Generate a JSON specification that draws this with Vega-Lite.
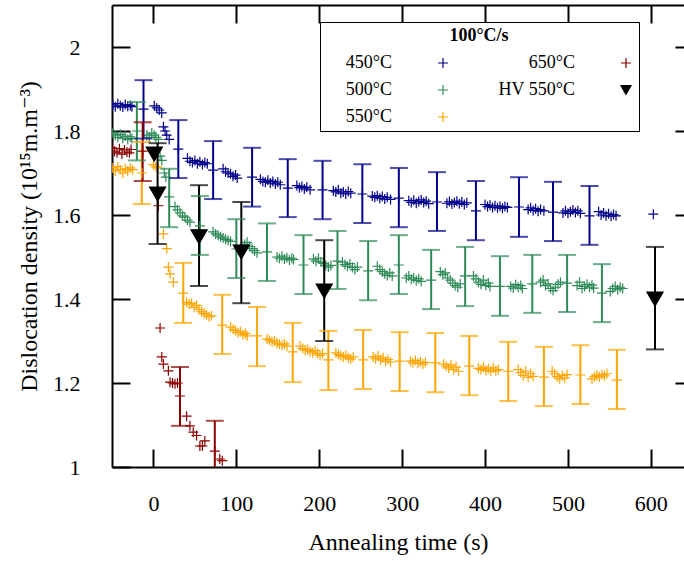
{
"$schema": "https://vega.github.io/schema/vega-lite/v6.json",
"width": 572, "height": 462,
"autosize": {"type": "none"},
"padding": {"left": 112, "top": 5, "right": 0, "bottom": 94},
"background": "white",
"config": {
  "view": {"stroke": null},
  "font": "Liberation Serif, DejaVu Serif, serif",
  "axis": {"domainColor": "black", "domainWidth": 2, "tickColor": "black", "tickWidth": 2, "labelColor": "black", "titleColor": "black", "labelFont": "Liberation Serif, DejaVu Serif, serif", "titleFont": "Liberation Serif, DejaVu Serif, serif", "labelFontSize": 22, "titleFontSize": 24, "titleFontWeight": "normal", "grid": false},
  "legend": {"labelFont": "Liberation Serif, DejaVu Serif, serif", "titleFont": "Liberation Serif, DejaVu Serif, serif"}
},
"datasets": {
"pts": [
{"series":"450°C","t":-49,"rho":1.862},{"series":"450°C","t":-46,"rho":1.858},{"series":"450°C","t":-43,"rho":1.865},{"series":"450°C","t":-40,"rho":1.860},{"series":"450°C","t":-37,"rho":1.857},{"series":"450°C","t":-34,"rho":1.863},{"series":"450°C","t":-31,"rho":1.859},{"series":"450°C","t":-28,"rho":1.861},{"series":"450°C","t":-26,"rho":1.858},
{"series":"450°C","t":1,"rho":1.860},{"series":"450°C","t":4,"rho":1.855},{"series":"450°C","t":7,"rho":1.850},{"series":"450°C","t":10,"rho":1.843},{"series":"450°C","t":12,"rho":1.81},{"series":"450°C","t":14,"rho":1.80},{"series":"450°C","t":16,"rho":1.79},{"series":"450°C","t":19,"rho":1.78},
{"series":"450°C","t":41,"rho":1.735},{"series":"450°C","t":44,"rho":1.728},{"series":"450°C","t":47,"rho":1.725},{"series":"450°C","t":50,"rho":1.73},{"series":"450°C","t":53,"rho":1.722},{"series":"450°C","t":56,"rho":1.727},{"series":"450°C","t":59,"rho":1.72},{"series":"450°C","t":62,"rho":1.725},{"series":"450°C","t":65,"rho":1.722},
{"series":"450°C","t":84,"rho":1.71},{"series":"450°C","t":87,"rho":1.703},{"series":"450°C","t":90,"rho":1.70},{"series":"450°C","t":93,"rho":1.698},{"series":"450°C","t":96,"rho":1.692},{"series":"450°C","t":99,"rho":1.695},{"series":"450°C","t":101,"rho":1.688},
{"series":"450°C","t":129,"rho":1.685},{"series":"450°C","t":132,"rho":1.68},{"series":"450°C","t":135,"rho":1.678},{"series":"450°C","t":138,"rho":1.683},{"series":"450°C","t":141,"rho":1.676},{"series":"450°C","t":144,"rho":1.68},{"series":"450°C","t":147,"rho":1.674},{"series":"450°C","t":150,"rho":1.678},{"series":"450°C","t":153,"rho":1.672},
{"series":"450°C","t":173,"rho":1.67},{"series":"450°C","t":176,"rho":1.665},{"series":"450°C","t":179,"rho":1.668},{"series":"450°C","t":182,"rho":1.662},{"series":"450°C","t":185,"rho":1.666},{"series":"450°C","t":189,"rho":1.66},
{"series":"450°C","t":217,"rho":1.658},{"series":"450°C","t":220,"rho":1.655},{"series":"450°C","t":223,"rho":1.66},{"series":"450°C","t":226,"rho":1.652},{"series":"450°C","t":229,"rho":1.655},{"series":"450°C","t":232,"rho":1.65},{"series":"450°C","t":235,"rho":1.656},{"series":"450°C","t":238,"rho":1.652},
{"series":"450°C","t":264,"rho":1.645},{"series":"450°C","t":267,"rho":1.642},{"series":"450°C","t":270,"rho":1.646},{"series":"450°C","t":273,"rho":1.64},{"series":"450°C","t":276,"rho":1.644},{"series":"450°C","t":279,"rho":1.638},{"series":"450°C","t":282,"rho":1.642},{"series":"450°C","t":286,"rho":1.637},
{"series":"450°C","t":308,"rho":1.634},{"series":"450°C","t":311,"rho":1.63},{"series":"450°C","t":314,"rho":1.635},{"series":"450°C","t":317,"rho":1.628},{"series":"450°C","t":320,"rho":1.632},{"series":"450°C","t":323,"rho":1.636},{"series":"450°C","t":326,"rho":1.63},{"series":"450°C","t":329,"rho":1.633},{"series":"450°C","t":332,"rho":1.627},
{"series":"450°C","t":354,"rho":1.628},{"series":"450°C","t":357,"rho":1.632},{"series":"450°C","t":360,"rho":1.626},{"series":"450°C","t":363,"rho":1.63},{"series":"450°C","t":366,"rho":1.633},{"series":"450°C","t":369,"rho":1.627},{"series":"450°C","t":372,"rho":1.631},{"series":"450°C","t":375,"rho":1.625},{"series":"450°C","t":378,"rho":1.629},
{"series":"450°C","t":400,"rho":1.625},{"series":"450°C","t":403,"rho":1.62},{"series":"450°C","t":406,"rho":1.623},{"series":"450°C","t":409,"rho":1.618},{"series":"450°C","t":412,"rho":1.622},{"series":"450°C","t":415,"rho":1.617},{"series":"450°C","t":418,"rho":1.621},{"series":"450°C","t":421,"rho":1.616},{"series":"450°C","t":424,"rho":1.62},{"series":"450°C","t":427,"rho":1.618},
{"series":"450°C","t":452,"rho":1.613},{"series":"450°C","t":455,"rho":1.617},{"series":"450°C","t":458,"rho":1.611},{"series":"450°C","t":461,"rho":1.615},{"series":"450°C","t":464,"rho":1.609},{"series":"450°C","t":467,"rho":1.613},{"series":"450°C","t":471,"rho":1.61},
{"series":"450°C","t":494,"rho":1.605},{"series":"450°C","t":497,"rho":1.61},{"series":"450°C","t":500,"rho":1.604},{"series":"450°C","t":503,"rho":1.608},{"series":"450°C","t":506,"rho":1.612},{"series":"450°C","t":509,"rho":1.606},{"series":"450°C","t":512,"rho":1.61},{"series":"450°C","t":515,"rho":1.604},
{"series":"450°C","t":537,"rho":1.608},{"series":"450°C","t":540,"rho":1.6},{"series":"450°C","t":543,"rho":1.605},{"series":"450°C","t":546,"rho":1.598},{"series":"450°C","t":549,"rho":1.603},{"series":"450°C","t":552,"rho":1.597},{"series":"450°C","t":555,"rho":1.601},{"series":"450°C","t":558,"rho":1.598},
{"series":"450°C","t":603,"rho":1.602},
{"series":"500°C","t":-49,"rho":1.795},{"series":"500°C","t":-46,"rho":1.79},{"series":"500°C","t":-43,"rho":1.785},{"series":"500°C","t":-40,"rho":1.792},{"series":"500°C","t":-37,"rho":1.783},{"series":"500°C","t":-34,"rho":1.788},{"series":"500°C","t":-31,"rho":1.78},{"series":"500°C","t":-28,"rho":1.786},{"series":"500°C","t":-26,"rho":1.782},
{"series":"500°C","t":-8,"rho":1.79},{"series":"500°C","t":-5,"rho":1.785},{"series":"500°C","t":-2,"rho":1.795},{"series":"500°C","t":1,"rho":1.79},{"series":"500°C","t":3,"rho":1.785},{"series":"500°C","t":6,"rho":1.78},{"series":"500°C","t":8,"rho":1.74},{"series":"500°C","t":10,"rho":1.73},{"series":"500°C","t":13,"rho":1.70},{"series":"500°C","t":15,"rho":1.69},
{"series":"500°C","t":26,"rho":1.62},{"series":"500°C","t":29,"rho":1.612},{"series":"500°C","t":32,"rho":1.605},{"series":"500°C","t":35,"rho":1.598},{"series":"500°C","t":38,"rho":1.595},{"series":"500°C","t":41,"rho":1.588},{"series":"500°C","t":44,"rho":1.583},
{"series":"500°C","t":72,"rho":1.56},{"series":"500°C","t":75,"rho":1.555},{"series":"500°C","t":78,"rho":1.552},{"series":"500°C","t":81,"rho":1.548},{"series":"500°C","t":84,"rho":1.545},{"series":"500°C","t":87,"rho":1.542},{"series":"500°C","t":90,"rho":1.54},{"series":"500°C","t":93,"rho":1.537},
{"series":"500°C","t":110,"rho":1.53},{"series":"500°C","t":113,"rho":1.535},{"series":"500°C","t":116,"rho":1.525},{"series":"500°C","t":119,"rho":1.52},{"series":"500°C","t":122,"rho":1.515},{"series":"500°C","t":125,"rho":1.51},
{"series":"500°C","t":149,"rho":1.50},{"series":"500°C","t":152,"rho":1.497},{"series":"500°C","t":155,"rho":1.502},{"series":"500°C","t":158,"rho":1.495},{"series":"500°C","t":161,"rho":1.498},{"series":"500°C","t":164,"rho":1.493},{"series":"500°C","t":167,"rho":1.497},{"series":"500°C","t":169,"rho":1.494},
{"series":"500°C","t":193,"rho":1.495},{"series":"500°C","t":196,"rho":1.49},{"series":"500°C","t":199,"rho":1.497},{"series":"500°C","t":202,"rho":1.488},{"series":"500°C","t":205,"rho":1.485},{"series":"500°C","t":208,"rho":1.48},{"series":"500°C","t":211,"rho":1.476},{"series":"500°C","t":214,"rho":1.48},
{"series":"500°C","t":228,"rho":1.488},{"series":"500°C","t":231,"rho":1.482},{"series":"500°C","t":234,"rho":1.478},{"series":"500°C","t":237,"rho":1.484},{"series":"500°C","t":240,"rho":1.475},{"series":"500°C","t":243,"rho":1.47},{"series":"500°C","t":246,"rho":1.476},
{"series":"500°C","t":270,"rho":1.478},{"series":"500°C","t":273,"rho":1.47},{"series":"500°C","t":276,"rho":1.465},{"series":"500°C","t":279,"rho":1.46},{"series":"500°C","t":282,"rho":1.456},{"series":"500°C","t":285,"rho":1.462},{"series":"500°C","t":288,"rho":1.455},
{"series":"500°C","t":305,"rho":1.45},{"series":"500°C","t":308,"rho":1.455},{"series":"500°C","t":311,"rho":1.447},{"series":"500°C","t":314,"rho":1.45},{"series":"500°C","t":317,"rho":1.444},{"series":"500°C","t":320,"rho":1.448},{"series":"500°C","t":323,"rho":1.442},
{"series":"500°C","t":346,"rho":1.465},{"series":"500°C","t":349,"rho":1.458},{"series":"500°C","t":352,"rho":1.462},{"series":"500°C","t":355,"rho":1.45},{"series":"500°C","t":358,"rho":1.445},{"series":"500°C","t":361,"rho":1.438},{"series":"500°C","t":364,"rho":1.432},{"series":"500°C","t":367,"rho":1.428},{"series":"500°C","t":370,"rho":1.436},
{"series":"500°C","t":386,"rho":1.455},{"series":"500°C","t":389,"rho":1.448},{"series":"500°C","t":392,"rho":1.44},{"series":"500°C","t":395,"rho":1.435},{"series":"500°C","t":398,"rho":1.445},{"series":"500°C","t":401,"rho":1.432},{"series":"500°C","t":404,"rho":1.438},{"series":"500°C","t":406,"rho":1.43},
{"series":"500°C","t":431,"rho":1.43},{"series":"500°C","t":434,"rho":1.426},{"series":"500°C","t":437,"rho":1.434},{"series":"500°C","t":440,"rho":1.428},{"series":"500°C","t":443,"rho":1.432},{"series":"500°C","t":445,"rho":1.425},
{"series":"500°C","t":467,"rho":1.44},{"series":"500°C","t":470,"rho":1.445},{"series":"500°C","t":473,"rho":1.432},{"series":"500°C","t":476,"rho":1.436},{"series":"500°C","t":479,"rho":1.425},{"series":"500°C","t":482,"rho":1.42},{"series":"500°C","t":485,"rho":1.428},{"series":"500°C","t":488,"rho":1.435},{"series":"500°C","t":491,"rho":1.44},
{"series":"500°C","t":511,"rho":1.432},{"series":"500°C","t":514,"rho":1.44},{"series":"500°C","t":517,"rho":1.425},{"series":"500°C","t":520,"rho":1.43},{"series":"500°C","t":523,"rho":1.435},{"series":"500°C","t":526,"rho":1.428},{"series":"500°C","t":529,"rho":1.433},{"series":"500°C","t":531,"rho":1.426},
{"series":"500°C","t":551,"rho":1.418},{"series":"500°C","t":554,"rho":1.425},{"series":"500°C","t":557,"rho":1.43},{"series":"500°C","t":560,"rho":1.422},{"series":"500°C","t":563,"rho":1.428},{"series":"500°C","t":566,"rho":1.425},
{"series":"550°C","t":-49,"rho":1.712},{"series":"550°C","t":-46,"rho":1.705},{"series":"550°C","t":-43,"rho":1.715},{"series":"550°C","t":-40,"rho":1.708},{"series":"550°C","t":-37,"rho":1.70},{"series":"550°C","t":-34,"rho":1.71},{"series":"550°C","t":-31,"rho":1.705},{"series":"550°C","t":-28,"rho":1.712},{"series":"550°C","t":-25,"rho":1.708},
{"series":"550°C","t":0,"rho":1.72},{"series":"550°C","t":3,"rho":1.715},{"series":"550°C","t":5,"rho":1.712},{"series":"550°C","t":12,"rho":1.555},{"series":"550°C","t":16,"rho":1.52},{"series":"550°C","t":18,"rho":1.476},{"series":"550°C","t":20,"rho":1.46},{"series":"550°C","t":24,"rho":1.44},
{"series":"550°C","t":40,"rho":1.392},{"series":"550°C","t":43,"rho":1.388},{"series":"550°C","t":46,"rho":1.39},{"series":"550°C","t":49,"rho":1.38},{"series":"550°C","t":52,"rho":1.385},{"series":"550°C","t":55,"rho":1.375},{"series":"550°C","t":58,"rho":1.37},{"series":"550°C","t":61,"rho":1.366},{"series":"550°C","t":64,"rho":1.362},{"series":"550°C","t":67,"rho":1.358},{"series":"550°C","t":70,"rho":1.36},
{"series":"550°C","t":93,"rho":1.333},{"series":"550°C","t":96,"rho":1.328},{"series":"550°C","t":99,"rho":1.325},{"series":"550°C","t":102,"rho":1.32},{"series":"550°C","t":105,"rho":1.322},{"series":"550°C","t":108,"rho":1.315},{"series":"550°C","t":111,"rho":1.318},{"series":"550°C","t":113,"rho":1.312},
{"series":"550°C","t":137,"rho":1.305},{"series":"550°C","t":140,"rho":1.302},{"series":"550°C","t":143,"rho":1.298},{"series":"550°C","t":146,"rho":1.30},{"series":"550°C","t":149,"rho":1.295},{"series":"550°C","t":152,"rho":1.292},{"series":"550°C","t":155,"rho":1.29},{"series":"550°C","t":158,"rho":1.293},{"series":"550°C","t":161,"rho":1.288},
{"series":"550°C","t":177,"rho":1.288},{"series":"550°C","t":180,"rho":1.282},{"series":"550°C","t":183,"rho":1.278},{"series":"550°C","t":186,"rho":1.28},{"series":"550°C","t":189,"rho":1.275},{"series":"550°C","t":192,"rho":1.272},{"series":"550°C","t":195,"rho":1.277},{"series":"550°C","t":198,"rho":1.27},{"series":"550°C","t":201,"rho":1.266},{"series":"550°C","t":204,"rho":1.27},
{"series":"550°C","t":220,"rho":1.272},{"series":"550°C","t":223,"rho":1.268},{"series":"550°C","t":226,"rho":1.265},{"series":"550°C","t":229,"rho":1.262},{"series":"550°C","t":232,"rho":1.266},{"series":"550°C","t":235,"rho":1.26},{"series":"550°C","t":238,"rho":1.257},{"series":"550°C","t":241,"rho":1.262},
{"series":"550°C","t":265,"rho":1.262},{"series":"550°C","t":268,"rho":1.258},{"series":"550°C","t":271,"rho":1.264},{"series":"550°C","t":274,"rho":1.255},{"series":"550°C","t":277,"rho":1.26},{"series":"550°C","t":280,"rho":1.252},{"series":"550°C","t":283,"rho":1.256},{"series":"550°C","t":286,"rho":1.25},
{"series":"550°C","t":310,"rho":1.252},{"series":"550°C","t":313,"rho":1.248},{"series":"550°C","t":316,"rho":1.254},{"series":"550°C","t":319,"rho":1.247},{"series":"550°C","t":322,"rho":1.25},{"series":"550°C","t":325,"rho":1.245},{"series":"550°C","t":328,"rho":1.249},
{"series":"550°C","t":350,"rho":1.245},{"series":"550°C","t":353,"rho":1.24},{"series":"550°C","t":356,"rho":1.236},{"series":"550°C","t":359,"rho":1.243},{"series":"550°C","t":362,"rho":1.232},{"series":"550°C","t":365,"rho":1.238},{"series":"550°C","t":368,"rho":1.228},
{"series":"550°C","t":392,"rho":1.235},{"series":"550°C","t":395,"rho":1.232},{"series":"550°C","t":398,"rho":1.238},{"series":"550°C","t":401,"rho":1.23},{"series":"550°C","t":404,"rho":1.234},{"series":"550°C","t":407,"rho":1.228},{"series":"550°C","t":410,"rho":1.236},{"series":"550°C","t":413,"rho":1.229},{"series":"550°C","t":416,"rho":1.232},
{"series":"550°C","t":440,"rho":1.232},{"series":"550°C","t":443,"rho":1.225},{"series":"550°C","t":446,"rho":1.218},{"series":"550°C","t":449,"rho":1.228},{"series":"550°C","t":452,"rho":1.214},{"series":"550°C","t":455,"rho":1.222},{"series":"550°C","t":458,"rho":1.216},
{"series":"550°C","t":481,"rho":1.228},{"series":"550°C","t":484,"rho":1.222},{"series":"550°C","t":487,"rho":1.215},{"series":"550°C","t":490,"rho":1.21},{"series":"550°C","t":493,"rho":1.218},{"series":"550°C","t":496,"rho":1.212},{"series":"550°C","t":499,"rho":1.22},
{"series":"550°C","t":529,"rho":1.21},{"series":"550°C","t":532,"rho":1.215},{"series":"550°C","t":535,"rho":1.218},{"series":"550°C","t":538,"rho":1.214},{"series":"550°C","t":541,"rho":1.22},{"series":"550°C","t":544,"rho":1.217},{"series":"550°C","t":547,"rho":1.222},
{"series":"650°C","t":-50,"rho":1.76},{"series":"650°C","t":-47,"rho":1.752},{"series":"650°C","t":-44,"rho":1.748},{"series":"650°C","t":-41,"rho":1.758},{"series":"650°C","t":-38,"rho":1.745},{"series":"650°C","t":-35,"rho":1.755},{"series":"650°C","t":-32,"rho":1.75},{"series":"650°C","t":-29,"rho":1.748},{"series":"650°C","t":-27,"rho":1.756},
{"series":"650°C","t":6,"rho":1.622},{"series":"650°C","t":8,"rho":1.331},{"series":"650°C","t":10,"rho":1.262},{"series":"650°C","t":12,"rho":1.245},{"series":"650°C","t":18,"rho":1.229},{"series":"650°C","t":20,"rho":1.202},{"series":"650°C","t":23,"rho":1.2},{"series":"650°C","t":26,"rho":1.198},{"series":"650°C","t":29,"rho":1.2},
{"series":"650°C","t":40,"rho":1.121},{"series":"650°C","t":44,"rho":1.098},{"series":"650°C","t":48,"rho":1.083},{"series":"650°C","t":52,"rho":1.075},{"series":"650°C","t":56,"rho":1.05},{"series":"650°C","t":59,"rho":1.05},{"series":"650°C","t":62,"rho":1.062},
{"series":"650°C","t":80,"rho":1.019},{"series":"650°C","t":83,"rho":1.015},
{"series":"HV 550°C","t":1,"rho":1.745}
],
"eb": [
{"series":"450°C","t":-12,"rho":1.852,"lo":1.782,"hi":1.921},{"series":"450°C","t":30,"rho":1.757,"lo":1.688,"hi":1.826},{"series":"450°C","t":72,"rho":1.707,"lo":1.638,"hi":1.776},{"series":"450°C","t":119,"rho":1.69,"lo":1.62,"hi":1.76},{"series":"450°C","t":162,"rho":1.664,"lo":1.595,"hi":1.733},{"series":"450°C","t":204,"rho":1.66,"lo":1.59,"hi":1.729},{"series":"450°C","t":252,"rho":1.65,"lo":1.581,"hi":1.721},{"series":"450°C","t":296,"rho":1.64,"lo":1.571,"hi":1.712},{"series":"450°C","t":342,"rho":1.631,"lo":1.562,"hi":1.702},{"series":"450°C","t":389,"rho":1.61,"lo":1.54,"hi":1.681},{"series":"450°C","t":441,"rho":1.619,"lo":1.548,"hi":1.69},{"series":"450°C","t":482,"rho":1.607,"lo":1.538,"hi":1.679},{"series":"450°C","t":526,"rho":1.598,"lo":1.529,"hi":1.669},
{"series":"500°C","t":-20,"rho":1.80,"lo":1.73,"hi":1.869},{"series":"500°C","t":19,"rho":1.643,"lo":1.571,"hi":1.71},{"series":"500°C","t":56,"rho":1.574,"lo":1.505,"hi":1.645},{"series":"500°C","t":100,"rho":1.519,"lo":1.45,"hi":1.59},{"series":"500°C","t":137,"rho":1.512,"lo":1.443,"hi":1.58},{"series":"500°C","t":181,"rho":1.481,"lo":1.412,"hi":1.552},{"series":"500°C","t":222,"rho":1.49,"lo":1.424,"hi":1.562},{"series":"500°C","t":259,"rho":1.467,"lo":1.397,"hi":1.538},{"series":"500°C","t":296,"rho":1.481,"lo":1.412,"hi":1.552},{"series":"500°C","t":335,"rho":1.445,"lo":1.376,"hi":1.517},{"series":"500°C","t":376,"rho":1.455,"lo":1.383,"hi":1.524},{"series":"500°C","t":418,"rho":1.43,"lo":1.36,"hi":1.502},{"series":"500°C","t":457,"rho":1.436,"lo":1.367,"hi":1.505},{"series":"500°C","t":499,"rho":1.438,"lo":1.369,"hi":1.505},{"series":"500°C","t":541,"rho":1.414,"lo":1.345,"hi":1.483},
{"series":"550°C","t":-14,"rho":1.70,"lo":1.626,"hi":1.774},{"series":"550°C","t":36,"rho":1.414,"lo":1.343,"hi":1.486},{"series":"550°C","t":83,"rho":1.338,"lo":1.269,"hi":1.41},{"series":"550°C","t":125,"rho":1.312,"lo":1.24,"hi":1.381},{"series":"550°C","t":168,"rho":1.274,"lo":1.202,"hi":1.343},{"series":"550°C","t":211,"rho":1.255,"lo":1.183,"hi":1.324},{"series":"550°C","t":253,"rho":1.255,"lo":1.186,"hi":1.326},{"series":"550°C","t":297,"rho":1.252,"lo":1.181,"hi":1.321},{"series":"550°C","t":340,"rho":1.248,"lo":1.178,"hi":1.319},{"series":"550°C","t":381,"rho":1.24,"lo":1.171,"hi":1.312},{"series":"550°C","t":428,"rho":1.228,"lo":1.157,"hi":1.298},{"series":"550°C","t":471,"rho":1.214,"lo":1.145,"hi":1.286},{"series":"550°C","t":515,"rho":1.219,"lo":1.15,"hi":1.29},{"series":"550°C","t":559,"rho":1.207,"lo":1.138,"hi":1.279},
{"series":"650°C","t":-13,"rho":1.752,"lo":1.681,"hi":1.821},{"series":"650°C","t":32,"rho":1.169,"lo":1.098,"hi":1.238},{"series":"650°C","t":74,"rho":1.038,"lo":0.968,"hi":1.11},
{"series":"HV 550°C","t":5,"rho":1.65,"lo":1.531,"hi":1.771},{"series":"HV 550°C","t":55,"rho":1.548,"lo":1.431,"hi":1.671},{"series":"HV 550°C","t":106,"rho":1.512,"lo":1.39,"hi":1.631},{"series":"HV 550°C","t":206,"rho":1.419,"lo":1.30,"hi":1.54},{"series":"HV 550°C","t":605,"rho":1.40,"lo":1.28,"hi":1.524}
]
},
"layer": [
{
  "data": {"name": "pts"},
  "mark": {"type": "point", "filled": false, "strokeWidth": 1.2, "opacity": 1, "clip": true},
  "encoding": {
    "x": {"field": "t", "type": "quantitative", "scale": {"domain": [-50, 640], "nice": false, "zero": false},
      "axis": {"orient": "bottom", "values": [0, 100, 200, 300, 400, 500, 600], "tickSize": -18, "labelPadding": 44, "title": "Annealing time (s)", "titlePadding": 16}},
    "y": {"field": "rho", "type": "quantitative", "scale": {"domain": [1, 2.1], "nice": false, "zero": false},
      "axis": {"orient": "left", "values": [1, 1.2, 1.4, 1.6, 1.8, 2], "format": ".2~f", "tickSize": -18, "labelPadding": 50, "title": "Dislocation density (10¹⁵m.m⁻³)", "titlePadding": 11}},
    "color": {"field": "series", "type": "nominal", "title": "100°C/s",
      "scale": {"domain": ["450°C", "500°C", "550°C", "650°C", "HV 550°C"], "range": ["#00008B", "#2E8B57", "#FFA500", "#8B0000", "black"]},
      "legend": {"orient": "none", "legendX": 208, "legendY": 17, "columns": 2, "direction": "vertical", "gridAlign": "all", "titleFontWeight": "bold", "titleAnchor": "middle", "titleFontSize": 18, "titleColor": "black", "titlePadding": 9, "labelFontSize": 18, "labelColor": "black", "labelAlign": "right", "labelOffset": -60, "symbolOffset": 109, "labelLimit": 300, "columnPadding": 47, "rowPadding": 9, "padding": 5, "strokeColor": "black", "fillColor": "white", "symbolStrokeWidth": 1.2,
        "encode": {"symbols": {"update": {"fill": [{"test": "datum.value === 'HV 550°C'", "value": "black"}, {"value": "transparent"}], "size": [{"test": "datum.value === 'HV 550°C'", "value": 260}, {"value": 100}]}}}}},
    "shape": {"field": "series", "type": "nominal", "title": "100°C/s",
      "scale": {"domain": ["450°C", "500°C", "550°C", "650°C", "HV 550°C"], "range": ["M-1,0L1,0M0,-1L0,1", "M-1,0L1,0M0,-1L0,1", "M-1,0L1,0M0,-1L0,1", "M-1,0L1,0M0,-1L0,1", "triangle-down"]}},
    "size": {"condition": {"test": "datum.series === 'HV 550°C'", "value": 260}, "value": 100},
    "fill": {"condition": {"test": "datum.series === 'HV 550°C'", "value": "black"}, "value": "transparent"}
  }
},
{
  "mark": {"type": "rule", "strokeDash": [9, 6], "strokeWidth": 2, "color": "black"},
  "encoding": {
    "x": {"datum": 0, "type": "quantitative", "scale": {"domain": [-50, 640], "nice": false, "zero": false},
      "axis": {"orient": "top", "values": [0, 100, 200, 300, 400, 500, 600], "labels": false, "tickSize": -18, "title": null}}
  }
},
{
  "data": {"name": "eb"},
  "mark": {"type": "rule", "strokeWidth": 2, "clip": true},
  "encoding": {
    "x": {"field": "t", "type": "quantitative", "scale": {"domain": [-50, 640], "nice": false, "zero": false}, "axis": null},
    "y": {"field": "lo", "type": "quantitative", "scale": {"domain": [1, 2.1], "nice": false, "zero": false},
      "axis": {"orient": "right", "values": [1.2, 1.4, 1.6, 1.8, 2], "labels": false, "domain": false, "tickSize": -9, "title": null}},
    "y2": {"field": "hi"},
    "color": {"field": "series", "type": "nominal", "scale": {"domain": ["450°C", "500°C", "550°C", "650°C", "HV 550°C"], "range": ["#00008B", "#2E8B57", "#FFA500", "#8B0000", "black"]}}
  }
},
{
  "data": {"name": "eb"},
  "mark": {"type": "tick", "orient": "horizontal", "size": 18, "thickness": 2, "clip": true},
  "encoding": {
    "x": {"field": "t", "type": "quantitative", "scale": {"domain": [-50, 640], "nice": false, "zero": false}, "axis": null},
    "y": {"field": "lo", "type": "quantitative", "scale": {"domain": [1, 2.1], "nice": false, "zero": false}, "axis": null},
    "color": {"field": "series", "type": "nominal", "scale": {"domain": ["450°C", "500°C", "550°C", "650°C", "HV 550°C"], "range": ["#00008B", "#2E8B57", "#FFA500", "#8B0000", "black"]}}
  }
},
{
  "data": {"name": "eb"},
  "mark": {"type": "tick", "orient": "horizontal", "size": 18, "thickness": 2, "clip": true},
  "encoding": {
    "x": {"field": "t", "type": "quantitative", "scale": {"domain": [-50, 640], "nice": false, "zero": false}, "axis": null},
    "y": {"field": "hi", "type": "quantitative", "scale": {"domain": [1, 2.1], "nice": false, "zero": false}, "axis": null},
    "color": {"field": "series", "type": "nominal", "scale": {"domain": ["450°C", "500°C", "550°C", "650°C", "HV 550°C"], "range": ["#00008B", "#2E8B57", "#FFA500", "#8B0000", "black"]}}
  }
},
{
  "data": {"name": "eb"},
  "mark": {"type": "point", "filled": false, "strokeWidth": 1.2, "opacity": 1, "clip": true},
  "encoding": {
    "x": {"field": "t", "type": "quantitative", "scale": {"domain": [-50, 640], "nice": false, "zero": false}, "axis": null},
    "y": {"field": "rho", "type": "quantitative", "scale": {"domain": [1, 2.1], "nice": false, "zero": false}, "axis": null},
    "color": {"field": "series", "type": "nominal", "scale": {"domain": ["450°C", "500°C", "550°C", "650°C", "HV 550°C"], "range": ["#00008B", "#2E8B57", "#FFA500", "#8B0000", "black"]}},
    "shape": {"field": "series", "type": "nominal", "scale": {"domain": ["450°C", "500°C", "550°C", "650°C", "HV 550°C"], "range": ["M-1,0L1,0M0,-1L0,1", "M-1,0L1,0M0,-1L0,1", "M-1,0L1,0M0,-1L0,1", "M-1,0L1,0M0,-1L0,1", "triangle-down"]}},
    "size": {"condition": {"test": "datum.series === 'HV 550°C'", "value": 260}, "value": 100},
    "fill": {"condition": {"test": "datum.series === 'HV 550°C'", "value": "black"}, "value": "transparent"}
  }
}
],
"resolve": {"axis": {"x": "independent", "y": "independent"}}
}
